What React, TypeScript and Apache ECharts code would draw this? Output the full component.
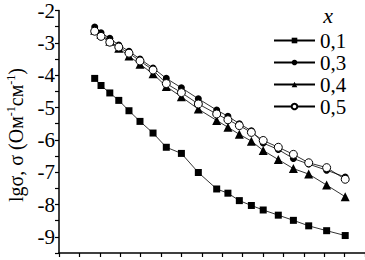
import React, { useEffect, useRef } from "react";
import * as echarts from "echarts";

const xValues = [1.75, 2.06, 2.49, 2.93, 3.43, 3.97, 4.61, 5.26, 6.0, 6.83, 7.73, 8.28, 8.84, 9.43, 10.01, 10.75, 11.49, 12.24, 13.12, 14.03];
const s01 = [-4.1, -4.32, -4.55, -4.78, -5.1, -5.43, -5.79, -6.23, -6.42, -7.01, -7.52, -7.65, -7.88, -8.03, -8.17, -8.33, -8.49, -8.66, -8.81, -8.96];
const s03 = [-2.51, -2.69, -2.86, -3.07, -3.26, -3.5, -3.78, -4.1, -4.39, -4.73, -5.08, -5.27, -5.5, -5.72, -6.1, -6.3, -6.58, -6.75, -6.94, -7.15];
const s04 = [-2.61, -2.74, -2.95, -3.17, -3.41, -3.66, -3.96, -4.35, -4.67, -5.05, -5.4, -5.61, -5.83, -6.04, -6.33, -6.61, -6.89, -7.06, -7.4, -7.76];
const s05 = [-2.64, -2.8, -2.98, -3.13, -3.32, -3.56, -3.84, -4.26, -4.54, -4.89, -5.2, -5.38, -5.56, -5.77, -6.02, -6.23, -6.45, -6.71, -6.86, -7.22];
const seriesNames = ["0,1", "0,3", "0,4", "0,5"];

const FONT = "Liberation Serif";

const zip = (ys: number[]) => xValues.map((x, i) => [x, ys[i]]);

export default function App() {
  const ref = useRef<HTMLDivElement>(null);
  useEffect(() => {
    if (!ref.current) return;
    const chart = echarts.init(ref.current, null, { renderer: "svg" });
    const line = { color: "#000", width: 0.8 };
    chart.setOption({
      animation: false,
      backgroundColor: "#fff",
      grid: { left: 59, right: 0, top: 9, bottom: 7 },
      xAxis: {
        type: "value",
        min: 0,
        max: 15,
        interval: 1,
        axisLine: { show: true, lineStyle: { color: "#000", width: 1.5 } },
        axisTick: { show: true, length: 4, lineStyle: { color: "#000", width: 1.2 } },
        axisLabel: { show: false },
        splitLine: { show: false },
      },
      yAxis: {
        type: "value",
        min: -9.5,
        max: -2,
        interval: 0.5,
        axisLine: { show: true, lineStyle: { color: "#000", width: 1.5 } },
        axisTick: { show: true, length: 4, lineStyle: { color: "#000", width: 1.2 } },
        axisLabel: {
          margin: 4,
          fontSize: 21,
          fontFamily: FONT,
          color: "#000",
          formatter: (v: number) => (Number.isInteger(v) ? String(v) : ""),
        },
        splitLine: { show: false },
      },
      legend: {
        data: seriesNames,
        orient: "vertical",
        left: 273,
        top: 30,
        itemWidth: 41,
        itemHeight: 7,
        itemGap: 1,
        padding: 0,
        selectedMode: false,
        textStyle: { fontSize: 21, fontFamily: FONT, color: "#000", lineHeight: 21 },
      },
      graphic: [
        {
          type: "text",
          x: 328,
          y: 15,
          style: {
            text: "x",
            font: `italic 22px "${FONT}"`,
            fill: "#000",
            align: "center",
            verticalAlign: "middle",
          },
        },
        {
          type: "text",
          x: 16,
          y: 135,
          rotation: Math.PI / 2,
          style: {
            text: "{n|lgσ, σ (Ом}{s|-1}{n|см}{s|-1}{n|)}",
            align: "center",
            verticalAlign: "middle",
            fill: "#000",
            rich: {
              n: { fontSize: 20, fontFamily: FONT, color: "#000", lineHeight: 22 },
              s: { fontSize: 12, fontFamily: FONT, color: "#000", verticalAlign: "top", lineHeight: 13 },
            },
          },
        },
      ],
      series: [
        {
          name: seriesNames[0],
          type: "line",
          data: zip(s01),
          symbol: "rect",
          symbolSize: 7,
          itemStyle: { color: "#000" },
          lineStyle: line,
        },
        {
          name: seriesNames[1],
          type: "line",
          data: zip(s03),
          symbol: "circle",
          symbolSize: 7,
          itemStyle: { color: "#000" },
          lineStyle: line,
        },
        {
          name: seriesNames[2],
          type: "line",
          data: zip(s04),
          symbol: "triangle",
          symbolSize: 9,
          itemStyle: { color: "#000" },
          lineStyle: line,
        },
        {
          name: seriesNames[3],
          type: "line",
          data: zip(s05),
          symbol: "circle",
          symbolSize: 8,
          itemStyle: { color: "#fff", borderColor: "#000", borderWidth: 1 },
          lineStyle: line,
        },
      ],
    });
    return () => chart.dispose();
  }, []);
  return <div ref={ref} style={{ position: "absolute", left: 0, top: 0, width: 365, height: 260 }} />;
}
